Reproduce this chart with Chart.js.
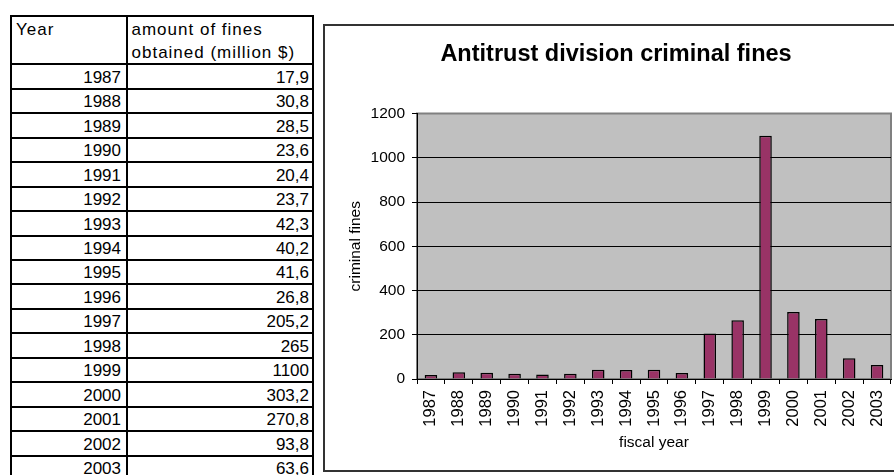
<!DOCTYPE html>
<html>
<head>
<meta charset="utf-8">
<title>Antitrust division criminal fines</title>
<script src="https://cdn.jsdelivr.net/npm/chart.js@4.4.1/dist/chart.umd.min.js"></script>
<style>
  html, body { margin: 0; padding: 0; background: #fff; }
  body { width: 894px; height: 475px; overflow: hidden; position: relative;
         font-family: 'Liberation Sans', Arial, sans-serif; }
  .hl { position: absolute; height: 2px; background: #000; }
  .vl { position: absolute; width: 2px; background: #000; }
  .t  { position: absolute; font-size: 17px; line-height: 20px; white-space: nowrap; color: #000; }
  .h  { letter-spacing: 1px; }
  .r  { text-align: right; }
  #box { position: absolute; left: 323px; top: 24px; width: 620px; height: 448px;
         box-sizing: border-box; border: 2px solid #333; }
  #chart { position: absolute; left: 324px; top: 25px; }
</style>
</head>
<body>
<div id="sheet"></div>
<div id="box"></div>
<canvas id="chart" width="584" height="447"></canvas>
<script>
// Fiscal years and criminal fines collected (million $)
const years = ['1987', '1988', '1989', '1990', '1991', '1992', '1993', '1994', '1995',
               '1996', '1997', '1998', '1999', '2000', '2001', '2002', '2003'];
const fines = [17.9, 30.8, 28.5, 23.6, 20.4, 23.7, 42.3, 40.2, 41.6,
               26.8, 205.2, 265, 1100, 303.2, 270.8, 93.8, 63.6];

const tableHeaderYear = 'Year';
const tableHeaderFines = ['amount of fines', 'obtained (million $)'];
const chartTitle = 'Antitrust division criminal fines';
const yAxisTitle = 'criminal fines';
const xAxisTitle = 'fiscal year';
const yTicks = [0, 200, 400, 600, 800, 1000, 1200];

const FONT = "'Liberation Sans', Arial, sans-serif";

// ---- worksheet table ----
const sheet = document.getElementById('sheet');
function addEl(cls, style, text) {
  const d = document.createElement('div');
  d.className = cls;
  Object.assign(d.style, style);
  if (text !== undefined) d.textContent = text;
  sheet.appendChild(d);
  return d;
}
const colRules = [10, 126, 312];
const headerTop = 15, headerBottom = 63.3, rowPitch = 24.46;
const BASE = 15.9; // baseline offset inside a 20px line box at 17px

colRules.forEach(x => addEl('vl', { left: x + 'px', top: headerTop + 'px', height: (475 - headerTop) + 'px' }));
const rowRules = [headerTop, headerBottom];
for (let k = 1; k <= years.length; k++) rowRules.push(headerBottom + k * rowPitch);
rowRules.forEach(y => addEl('hl', { left: colRules[0] + 'px', top: Math.round(y) + 'px',
                                   width: (colRules[2] + 2 - colRules[0]) + 'px' }));

addEl('t h', { left: '16px', top: (36 - BASE) + 'px' }, tableHeaderYear);
addEl('t h', { left: '131.5px', top: (36 - BASE) + 'px' }, tableHeaderFines[0]);
addEl('t h', { left: '131.5px', top: (59.3 - BASE) + 'px' }, tableHeaderFines[1]);

years.forEach((yr, i) => {
  const lineTop = Math.round(headerBottom + (i + 1) * rowPitch);
  const top = (lineTop - 4 - BASE) + 'px';
  addEl('t r', { left: '12px', width: '109px', top }, yr);
  addEl('t r', { left: '128px', width: '181px', top }, String(fines[i]).replace('.', ','));
});

// ---- chart ----
const plotFrame = {
  id: 'plotFrame',
  beforeDraw(chart) {
    const { ctx, chartArea: a } = chart;
    ctx.save();
    ctx.fillStyle = '#c0c0c0';
    ctx.fillRect(a.left, a.top, a.right - a.left, a.bottom - a.top);
    ctx.strokeStyle = '#808080';
    ctx.lineWidth = 2;
    ctx.strokeRect(a.left, a.top, a.right - a.left, a.bottom - a.top);
    ctx.restore();
  }
};

const axisFont = { family: FONT, size: 15.5 };
const xTickFont = { family: FONT, size: 16.5 };

new Chart(document.getElementById('chart'), {
  type: 'bar',
  data: {
    labels: years,
    datasets: [{
      label: 'criminal fines',
      data: fines,
      backgroundColor: '#993366',
      borderColor: '#000',
      borderWidth: 1.5,
      categoryPercentage: 1,
      barPercentage: 0.45
    }]
  },
  options: {
    responsive: false,
    animation: false,
    devicePixelRatio: 1,
    layout: { padding: { left: 17, right: 17, top: 0, bottom: 0 } },
    plugins: {
      legend: { display: false },
      tooltip: { enabled: false },
      title: {
        display: true,
        text: chartTitle,
        color: '#000',
        font: { family: FONT, size: 23.5, weight: 'bold' },
        padding: { top: 15.5, bottom: 44.8 }
      }
    },
    scales: {
      x: {
        offset: true,
        grid: { display: true, drawOnChartArea: false, drawTicks: true, tickLength: 5,
                tickColor: '#000', offset: true },
        border: { display: true, color: '#000', width: 1 },
        ticks: { autoSkip: false, minRotation: 90, maxRotation: 90, padding: 6,
                 color: '#000', font: xTickFont },
        title: { display: true, text: xAxisTitle, color: '#000', font: axisFont,
                 padding: { top: 0, bottom: 20 } },
        afterFit(scale) { scale.height = 93; }
      },
      y: {
        min: yTicks[0],
        max: yTicks[yTicks.length - 1],
        afterBuildTicks(scale) { scale.ticks = yTicks.map(v => ({ value: v })); },
        ticks: { padding: 7, color: '#000', font: axisFont, callback: v => String(v) },
        grid: {
          color: c => (c.tick && c.tick.value === yTicks[yTicks.length - 1]) ? '#808080' : '#000',
          lineWidth: 1, tickLength: 5, tickColor: '#000'
        },
        border: { display: true, color: '#000', width: 1 },
        title: { display: true, text: yAxisTitle, color: '#000', font: axisFont,
                 padding: { top: 5.7, bottom: 0 } },
        afterFit(scale) { scale.width = 76; }
      }
    }
  },
  plugins: [plotFrame]
});
</script>
</body>
</html>
